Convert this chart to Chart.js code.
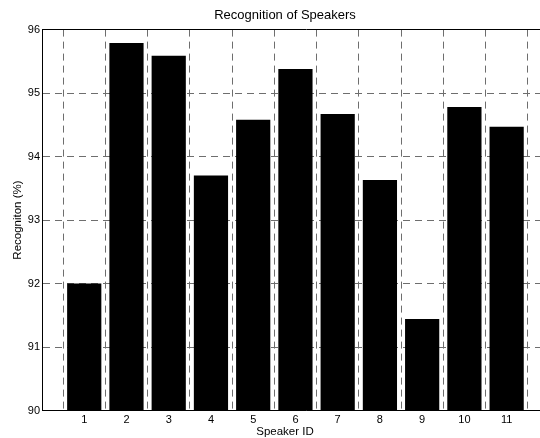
<!DOCTYPE html>
<html>
<head>
<meta charset="utf-8">
<title>Recognition of Speakers</title>
<script src="https://cdn.jsdelivr.net/npm/chart.js@4/dist/chart.umd.min.js"></script>
<style>
  html, body { margin: 0; padding: 0; background: #fff; overflow: hidden; }
  #wrap { width: 570px; height: 438px; }
</style>
</head>
<body>
<div id="wrap"><canvas id="c" width="570" height="438"></canvas></div>
<script>
// Speaker IDs and recognition rate (%) for each speaker
const speakerIds = [1, 2, 3, 4, 5, 6, 7, 8, 9, 10, 11];
const recognition = [92.0, 95.79, 95.59, 93.70, 94.58, 95.38, 94.67, 93.63, 91.44, 94.78, 94.47];
const yTicks = [90, 91, 92, 93, 94, 95, 96];

const FONT = "'Liberation Sans', Arial, Helvetica, sans-serif";
const GRID = '#6e6e6e';

const points = speakerIds.map((id, i) => ({ x: id, y: recognition[i] }));

new Chart(document.getElementById('c'), {
  type: 'bar',
  data: {
    datasets: [{
      data: points,
      backgroundColor: '#000',
      borderWidth: 0,
      barPercentage: 0.81,
      categoryPercentage: 1.0
    }]
  },
  options: {
    responsive: false,
    devicePixelRatio: 1,
    animation: false,
    layout: { padding: 0 },
    plugins: {
      legend: { display: false },
      tooltip: { enabled: false },
      title: {
        display: true,
        text: 'Recognition of Speakers',
        color: '#000',
        font: { family: FONT, size: 13, weight: 'normal', lineHeight: 1.2 },
        padding: { top: 8, bottom: 6 }
      },
      subtitle: {
        display: true,
        position: 'bottom',
        text: 'Speaker ID',
        color: '#000',
        font: { family: FONT, size: 11.5, weight: 'normal', lineHeight: 1.0 },
        padding: { top: 0, bottom: 0 }
      }
    },
    scales: {
      x: {
        type: 'linear',
        min: 0,
        max: 12.5,
        offset: false,
        afterBuildTicks: (s) => { s.ticks = speakerIds.map(v => ({ value: v })); },
        afterFit: (s) => { s.height = 16; },
        ticks: {
          color: '#000',
          font: { family: FONT, size: 11 },
          padding: 3,
          maxRotation: 0,
          autoSkip: false,
          callback: (v) => String(v)
        },
        grid: { display: true, drawTicks: false, color: GRID, lineWidth: 1 },
        border: { display: true, color: '#000', width: 1, dash: [7, 5] }
      },
      xTop: {
        type: 'linear',
        position: 'top',
        min: 0,
        max: 12.5,
        ticks: { display: false },
        grid: { display: false, drawTicks: false },
        border: { display: true, color: '#000', width: 1 }
      },
      y: {
        min: 90,
        max: 96,
        afterBuildTicks: (s) => { s.ticks = yTicks.map(v => ({ value: v })); },
        afterFit: (s) => { s.width = 42; },
        ticks: {
          color: '#000',
          font: { family: FONT, size: 11 },
          padding: 2
        },
        grid: { display: true, drawTicks: false, color: GRID, lineWidth: 1 },
        border: { display: true, color: '#000', width: 1, dash: [7, 5] },
        title: {
          display: true,
          text: 'Recogniton (%)',
          color: '#000',
          font: { family: FONT, size: 11.5, weight: 'normal', lineHeight: 1.2 },
          padding: { top: 11, bottom: 0 }
        }
      }
    }
  }
});
</script>
</body>
</html>
